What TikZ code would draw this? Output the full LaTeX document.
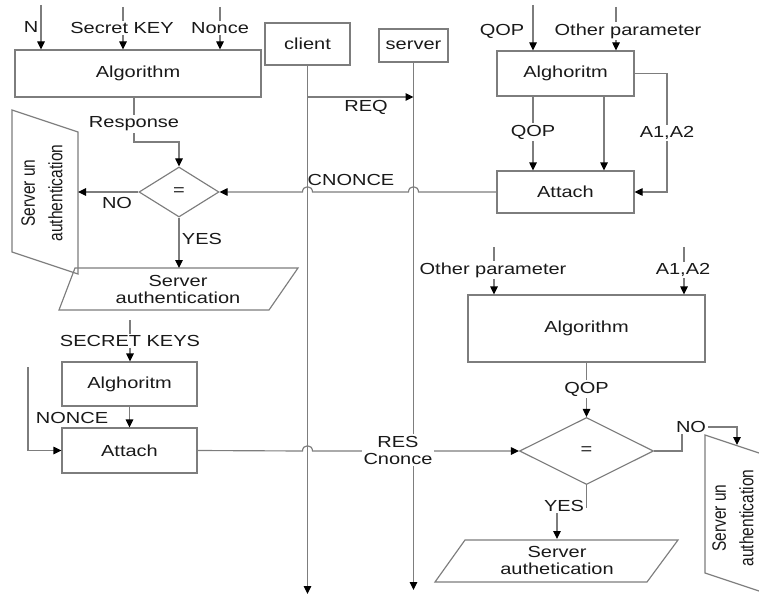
\documentclass[tikz,border=0pt]{standalone}
\usepackage{fontspec}
\setmainfont{Liberation Sans}[FakeStretch=1.25]
\newfontfamily\rotfont{Liberation Sans}
\usetikzlibrary{arrows.meta,shapes.geometric,calc}
\definecolor{lncol}{RGB}{125,125,125}
\definecolor{txcol}{RGB}{25,25,25}
\begin{document}
\begin{tikzpicture}[x=1pt,y=-1pt,
  every node/.style={font=\fontsize{16}{17}\selectfont, text=txcol},
  wire/.style={draw=lncol, line width=1.15pt},
  arr/.style={wire, -{Triangle[length=8pt,width=7.5pt,color=black]}},
  box/.style={rectangle, draw=lncol, line width=1.15pt, inner sep=0pt},
  dia/.style={diamond, draw=lncol, line width=1.15pt, inner sep=0pt},
  lbl/.style={fill=white, inner sep=1.5pt},
  rot/.style={rotate=90, align=center, font=\rotfont\fontsize{15.5}{22}\selectfont}]
\useasboundingbox (0,0) rectangle (759,596);

% ---------- boxes ----------
\node[box, minimum width=246pt, minimum height=47pt] (alg1) at (138,73.5) {Algorithm};
\node[box, minimum width=85pt, minimum height=42pt] (client) at (307.5,44) {client};
\node[box, minimum width=69pt, minimum height=33pt] (server) at (413.5,45.5) {server};
\node[box, minimum width=137pt, minimum height=45pt] (alg2) at (565.5,73.5) {Alghoritm};
\node[box, minimum width=137pt, minimum height=42pt] (att1) at (565.5,192) {Attach};
\node[box, minimum width=237pt, minimum height=67pt] (alg3) at (586.5,328.5) {Algorithm};
\node[box, minimum width=135pt, minimum height=44pt] (alg4) at (129.5,384) {Alghoritm};
\node[box, minimum width=135pt, minimum height=45pt] (att2) at (129.5,450.5) {Attach};
\node[dia, minimum width=80pt, minimum height=50pt] (d1) at (179,192) {=};
\node[dia, minimum width=134pt, minimum height=67pt] (d2) at (586.5,451) {=};

% ---------- other shapes ----------
\draw[wire] (12,110) -- (78,132) -- (78,274) -- (12,252) -- cycle;
\node[rot] (su1) at (43,193) {\scalebox{1}[1.25]{\begin{tabular}{@{}c@{}}Server un\\authentication\end{tabular}}};
\draw[wire] (759,453) -- (705,435) -- (705,573) -- (759,591);
\node[rot] (su2) at (734,518) {\scalebox{1}[1.25]{\begin{tabular}{@{}c@{}}Server un\\authentication\end{tabular}}};
\draw[wire] (75,268) -- (298,268) -- (269,310) -- (59,310) -- cycle;
\node[align=center] (sa1) at (178,289) {Server\\authentication};
\draw[wire] (465,540) -- (678,540) -- (647,582) -- (435,582) -- cycle;
\node[align=center] (sa2) at (557,560) {Server\\authetication};

% ---------- coordinates ----------
\coordinate (noL) at (78,192);
\coordinate (yesL) at (179,268);
\coordinate (clEnd) at (307.5,594);
\coordinate (svEnd) at (413.5,590);
\coordinate (reqA) at (307.5,97);
\coordinate (reqB) at (413.5,97);
\coordinate (resp0) at (134,97);
\coordinate (nIn) at (41,5);
\coordinate (skIn) at (123,7);
\coordinate (ncIn) at (220,7);
\coordinate (qIn) at (533,5);
\coordinate (opIn) at (616,7);
\coordinate (a2x) at (604,96);
\coordinate (op2) at (494,247);
\coordinate (aa2) at (684,247);
\coordinate (skk) at (130,320);
\coordinate (lft) at (28,367);
\coordinate (noR) at (737,445);
\coordinate (yesR) at (557,539);

% ---------- lifelines ----------
\draw[arr] (client.south) -- (clEnd);
\draw[arr] (server.south) -- (svEnd);
\draw[arr] (reqA) -- (reqB);

% ---------- inputs top-left ----------
\draw[arr] (nIn) -- (nIn |- alg1.north);
\draw[arr] (skIn) -- (skIn |- alg1.north);
\draw[arr] (ncIn) -- (ncIn |- alg1.north);
% ---------- inputs top-right ----------
\draw[arr] (qIn) -- (qIn |- alg2.north);
\draw[arr] (opIn) -- (opIn |- alg2.north);
\draw[arr] (qIn |- alg2.south) -- (qIn |- att1.north);
\draw[arr] (a2x) -- (a2x |- att1.north);
\draw[arr] (alg2.east) -- (667,73.5) |- (att1.east);
% ---------- inputs mid-right ----------
\draw[arr] (op2) -- (op2 |- alg3.north);
\draw[arr] (aa2) -- (aa2 |- alg3.north);
\draw[arr] (alg3.south) -- (d2.north);
% ---------- left decision ----------
\draw[arr] (resp0) -- (134,142) -| (d1.north);
\draw[arr] (d1.west) -- (noL);
\draw[arr] (d1.south) -- (yesL);
% ---------- CNONCE ----------
\draw[arr] (att1.west) -- (418.5,192) .. controls (418.5,185) and (408.5,185) .. (408.5,192)
  -- (312.5,192) .. controls (312.5,185) and (302.5,185) .. (302.5,192) -- (d1.east);
% ---------- lower left ----------
\draw[arr] (skk) -- (skk |- alg4.north);
\draw[arr] (alg4.south) -- (att2.north);
\draw[arr] (lft) |- (att2.west);
% ---------- RES ----------
\draw[arr] (att2.east) -- (302.5,451) .. controls (302.5,444) and (312.5,444) .. (312.5,451) -- (d2.west);
% ---------- right decision ----------
\draw[arr] (d2.east) -- (682,451) |- (737,427) -- (noR);
\draw[arr] (d2.south) -- (586.5,507) -| (yesR);

% ---------- labels ----------
\node (lN) at (31,27) {N};
\node[lbl] (lSK) at (122,28) {Secret KEY};
\node[lbl] (lNc) at (220,28) {Nonce};
\node[lbl] (lResp) at (134,124) {Response};
\node (lNO1) at (117,203) {NO};
\node (lYES1) at (202,239) {YES};
\node (lREQ) at (366,107) {REQ};
\node (lCN) at (351,180) {CNONCE};
\node (lQ1) at (502,31) {QOP};
\node[lbl] (lOP1) at (628,31) {Other parameter};
\node[lbl] (lQ2) at (533,132) {QOP};
\node[lbl] (lA1) at (667,133) {A1,A2};
\node[lbl] (lOP2) at (493,270) {Other parameter};
\node[lbl] (lA2) at (683,270) {A1,A2};
\node[lbl] (lQ3) at (586.5,389) {QOP};
\node[lbl] (lSKS) at (130,341) {SECRET KEYS};
\node (lNON) at (72,418) {NONCE};
\node[lbl, align=center] (lRES) at (398,450) {RES\\Cnonce};
\node[lbl] (lNO2) at (691,427) {NO};
\node[lbl] (lYES2) at (564,506) {YES};
\end{tikzpicture}
\end{document}
